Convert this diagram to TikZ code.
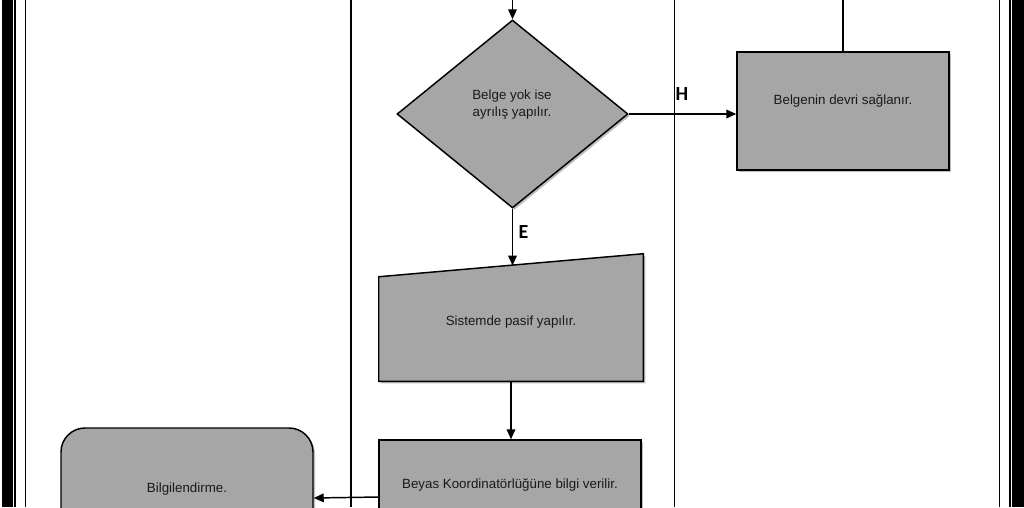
\documentclass[tikz,border=0pt]{standalone}
\usepackage{fontspec}
\setmainfont{Liberation Sans}
\newfontfamily\lblfont{Carlito}
\usetikzlibrary{shapes.geometric,arrows.meta,shadows}
\definecolor{boxgray}{HTML}{A6A6A6}
\tikzset{
  shad/.style={drop shadow={shadow xshift=1.5pt,shadow yshift=-1.5pt,opacity=0.25,fill=black}},
  procbox/.style={draw=black,line width=1.1pt,fill=boxgray,shad},
  txt/.style={font=\fontsize{10}{12.75}\selectfont,align=center,inner sep=0pt,text=black!90},
  conn/.style={line width=1.1pt,-{Triangle[length=7.5pt,width=6.5pt]}},
  plain/.style={line width=1.1pt},
  lane/.style={line width=0.8pt},
  yn/.style={font=\lblfont\bfseries\fontsize{15}{16}\selectfont,inner sep=0pt}
}
\begin{document}
\begin{tikzpicture}[x=0.75pt,y=-0.75pt]
\useasboundingbox (0,0) rectangle (1024,507);
\clip (0,0) rectangle (1024,507);
\fill[white] (0,0) rectangle (1024,507);
% outer frame
\fill[black] (2,0) rectangle (13.3,507);
\draw[lane] (15,0) -- (15,507);
\draw[lane] (25.5,0) -- (25.5,507);
\fill[black] (1011.7,0) rectangle (1024,507);
\draw[lane] (1010,0) -- (1010,507);
\draw[lane] (999.5,0) -- (999.5,507);
% lane dividers
\draw[lane] (351,0) -- (351,507);
\draw[lane] (674.5,0) -- (674.5,507);

% decision
\node[diamond,procbox,minimum width=231*0.75pt,minimum height=188*0.75pt,inner sep=0pt] (dec) at (512.5,114) {};
\node[txt] (dectxt) at (512,104.5) {Belge yok ise\\ayrılış yapılır.};
\coordinate (topin) at (512.5,0);
\draw[conn] (topin) -- (dec.north);

% Belgenin devri
\node[procbox,rectangle,minimum width=212*0.75pt,minimum height=118*0.75pt,inner sep=0pt] (dev) at (843,111) {};
\node[txt] (devtxt) at (843,101) {Belgenin devri sağlanır.};
\coordinate (devtop) at (843,0);
\draw[plain] (dev.north) -- (devtop);
\draw[conn] (dec.east) -- (dev.west |- dec.east);
\node[yn] (H) at (682,94.5) {H};

% Sistemde pasif (manual input)
\node[inner sep=0pt,minimum width=264*0.75pt,minimum height=127*0.75pt] (sys) at (511,317.5) {};
\fill[black,opacity=0.25] ([shift={(2,2)}]sys.south west) -- ([shift={(2,2)}]sys.south east) -- ([shift={(2,2)}]sys.north east) -- ([shift={(2,25)}]sys.north west) -- cycle;
\draw[draw=black,line width=1.1pt,fill=boxgray] (sys.south west) -- (sys.south east) -- (sys.north east) -- ([shift={(0,23)}]sys.north west) -- cycle;
\node[txt] (systxt) at (511,322) {Sistemde pasif yapılır.};
\coordinate (sysin) at (512.5,265.5);
\draw[conn] (dec.south) -- (sysin);
\node[yn] (E) at (523.5,232) {E};

% Beyas
\node[procbox,rectangle,minimum width=262*0.75pt,minimum height=120*0.75pt,inner sep=0pt] (bey) at (510,500) {};
\node[txt] (beytxt) at (510,485) {Beyas Koordinatörlüğüne bilgi verilir.};
\draw[conn] (sys.south -| 511,0) -- (bey.north -| 511,0);

% Bilgilendirme
\node[procbox,rectangle,rounded corners=18pt,minimum width=252*0.75pt,minimum height=130*0.75pt,inner sep=0pt] (bil) at (187,493) {};
\node[txt] (biltxt) at (187,489) {Bilgilendirme.};
\coordinate (beyout) at (379,497);
\draw[conn] (beyout) -- (bil.east |- 0,498);
\end{tikzpicture}
\end{document}
